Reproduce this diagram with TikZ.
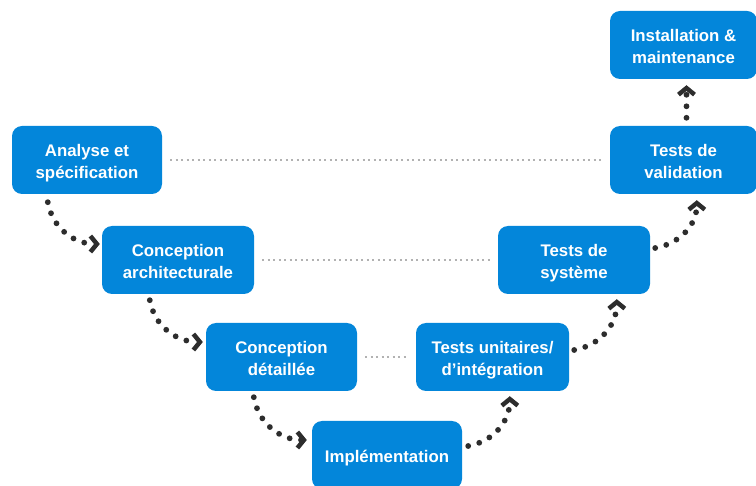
\documentclass[tikz,border=0pt]{standalone}
\usepackage{fontspec}
\setmainfont{Liberation Sans}
\usetikzlibrary{arrows.meta}
\definecolor{phaseblue}{RGB}{3,134,218}
\definecolor{dotgray}{RGB}{45,45,45}
\definecolor{guidegray}{RGB}{178,178,178}
% centred lines of a phase, set a little below the middle of the box
\newcommand{\phaselines}[1]{\raisebox{-3pt}[\height][\depth]{\begin{tabular}{@{}c@{}}#1\end{tabular}}}
\begin{document}
\begin{tikzpicture}[x=1pt,y=1pt,
  phase/.style={fill=phaseblue, rounded corners=10pt, minimum height=68pt,
    text=white, font=\bfseries\fontsize{16.8}{21.5}\selectfont, inner sep=0pt},
  flow/.style={draw=dotgray, line width=5.8pt, line cap=round,
    dash pattern=on 0pt off 11.5pt,
    -{Straight Barb[length=6.5pt,width=16pt,line width=4.5pt]}},
  level/.style={draw=guidegray, line width=2pt, dash pattern=on 2pt off 3.5pt,
    shorten <=8pt, shorten >=8pt}]
\useasboundingbox (0,0) rectangle (756,-486);

% the phases of the V cycle
\node[phase, minimum width=150pt] (a) at (87,-160) {\phaselines{Analyse et\\spécification}};
\node[phase, minimum width=152pt] (b) at (178,-260) {\phaselines{Conception\\architecturale}};
\node[phase, minimum width=151pt] (c) at (281.5,-357) {\phaselines{Conception\\détaillée}};
\node[phase, minimum width=150pt] (d) at (387,-455) {\phaselines{Implémentation}};
\node[phase, minimum width=153pt] (e) at (492.5,-357) {\phaselines{Tests unitaires/\\d’intégration}};
\node[phase, minimum width=152pt] (f) at (574,-260) {\phaselines{Tests de\\système}};
\node[phase, minimum width=147pt] (g) at (683.5,-160) {\phaselines{Tests de\\validation}};
\node[phase, minimum width=147pt] (h) at (683.5,-45) {\phaselines{Installation \&\\maintenance}};

% levels linking each design phase to its test phase
\draw[level] (a.east) -- (g.west);
\draw[level] (b.east) -- (f.west);
\draw[level] (c.east) -- (e.west);

% descending branch
\draw[flow] ([xshift=36pt,yshift=-8pt]a.south west) to[out=-80,in=180]
  ([xshift=-2pt,yshift=16pt]b.west);
\draw[flow] ([xshift=48pt,yshift=-6pt]b.south west) to[out=-80,in=180]
  ([xshift=-3pt,yshift=15pt]c.west);
\draw[flow] ([xshift=48pt,yshift=-6pt]c.south west) to[out=-80,in=180]
  ([xshift=-5pt,yshift=15pt]d.west);

% ascending branch
\draw[flow] ([xshift=6pt,yshift=9pt]d.east) to[out=10,in=-90]
  ([xshift=94pt,yshift=-5pt]e.south west);
\draw[flow] ([xshift=5pt,yshift=7pt]e.east) to[out=10,in=-90]
  ([xshift=119pt,yshift=-5pt]f.south west);
\draw[flow] ([xshift=5pt,yshift=12pt]f.east) to[out=10,in=-90]
  ([xshift=87pt,yshift=-6pt]g.south west);
\draw[flow] ([xshift=3pt,yshift=8pt]g.north) -- ([xshift=3pt,yshift=-6pt]h.south);
\end{tikzpicture}
\end{document}
